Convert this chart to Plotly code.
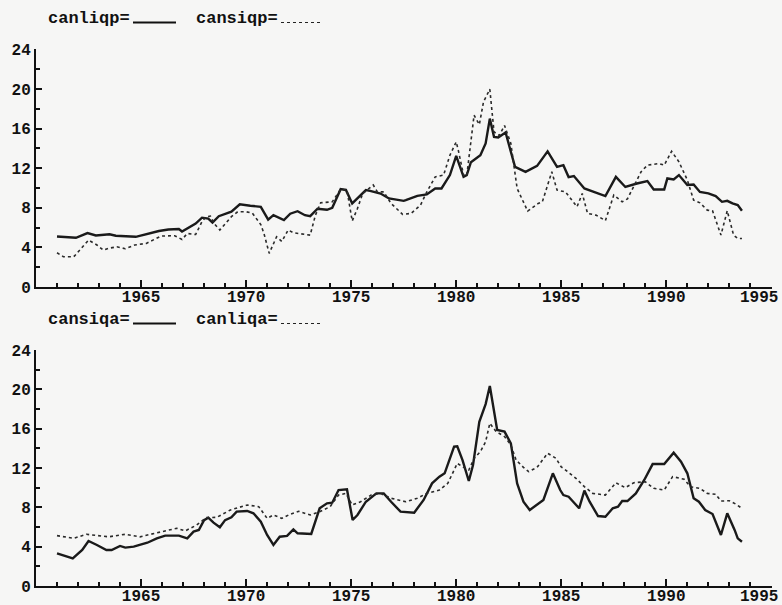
import plotly.graph_objects as go

# ---------------- data ----------------
canliqp_t = [1961.0,1961.9,1962.45,1962.85,1963.5,1963.8,1964.75,1965.2,1965.85,1966.3,1966.8,1966.95,1967.6,1967.9,1968.2,1968.4,1968.7,1969.3,1969.7,1970.2,1970.7,1971.05,1971.3,1971.8,1972.1,1972.45,1972.8,1973.05,1973.4,1973.85,1974.1,1974.5,1974.75,1975.05,1975.7,1975.9,1976.4,1976.8,1977.5,1977.6,1978.15,1978.6,1979.0,1979.3,1979.7,1980.0,1980.35,1980.5,1980.7,1981.15,1981.4,1981.6,1981.8,1982.0,1982.35,1982.6,1982.8,1983.3,1983.85,1984.35,1984.8,1985.1,1985.35,1985.6,1986.1,1986.55,1987.1,1987.6,1988.05,1988.6,1989.1,1989.4,1989.9,1990.05,1990.35,1990.6,1991.0,1991.3,1991.6,1992.0,1992.35,1992.65,1992.9,1993.15,1993.4,1993.6]
canliqp_v = [5.1,4.97,5.45,5.2,5.32,5.18,5.07,5.3,5.65,5.8,5.85,5.6,6.4,7.0,6.9,6.5,7.15,7.6,8.35,8.2,8.1,6.8,7.25,6.75,7.4,7.65,7.25,7.15,7.9,7.8,8.0,9.88,9.8,8.44,9.78,9.7,9.44,8.94,8.7,8.77,9.2,9.35,9.95,9.95,11.3,13.24,11.12,11.3,12.6,13.3,14.5,17.0,15.16,15.1,15.6,13.65,12.13,11.63,12.23,13.7,12.13,12.3,11.1,11.2,9.95,9.6,9.18,11.12,10.1,10.45,10.7,9.85,9.85,10.96,10.86,11.3,10.3,10.35,9.6,9.45,9.18,8.6,8.7,8.44,8.27,7.7]

cansiqp_t = [1961.0,1961.3,1961.8,1962.2,1962.5,1962.9,1963.2,1963.45,1963.85,1964.25,1964.7,1965.25,1965.55,1965.95,1966.6,1966.95,1967.2,1967.6,1967.9,1968.1,1968.3,1968.5,1968.75,1969.1,1969.3,1969.6,1970.0,1970.3,1970.7,1970.85,1971.1,1971.45,1971.7,1972.0,1972.25,1973.05,1973.3,1973.55,1974.1,1974.5,1974.8,1975.05,1975.3,1975.55,1976.05,1976.25,1976.55,1976.9,1977.45,1977.85,1978.3,1978.6,1979.0,1979.4,1979.7,1980.0,1980.1,1980.35,1980.5,1980.85,1981.1,1981.3,1981.6,1981.8,1982.05,1982.3,1982.6,1982.9,1983.4,1983.9,1984.1,1984.55,1984.8,1985.2,1985.75,1986.0,1986.25,1986.65,1987.1,1987.5,1987.9,1988.15,1988.8,1989.1,1989.65,1989.9,1990.25,1990.6,1991.0,1991.3,1991.6,1991.95,1992.2,1992.6,1992.9,1993.2,1993.4,1993.6]
cansiqp_v = [3.46,3.06,3.06,4.06,4.74,4.24,3.73,3.9,4.06,3.86,4.24,4.4,4.74,5.14,5.18,4.8,5.4,5.3,6.6,7.1,7.16,6.35,5.75,6.6,7.1,7.6,7.6,7.45,6.3,5.4,3.4,5.07,4.6,5.75,5.48,5.24,7.26,8.5,8.6,9.88,9.78,6.66,7.93,9.44,10.3,9.6,9.6,8.44,7.33,7.43,8.27,9.6,11.12,11.3,13.3,14.65,13.8,11.3,11.2,17.34,16.4,18.7,19.97,15.66,15.3,16.3,14.5,9.95,7.66,8.44,8.6,11.63,9.78,9.6,8.1,9.44,7.43,7.26,6.7,9.28,8.6,8.9,11.63,12.3,12.47,12.3,13.7,12.64,10.8,8.77,8.5,7.76,7.7,5.24,7.7,5.24,4.9,4.9]

cansiqa_t = [1961.0,1961.35,1961.75,1962.2,1962.5,1962.9,1963.35,1963.6,1964.0,1964.25,1964.65,1965.3,1965.75,1966.15,1966.8,1967.2,1967.5,1967.75,1968.0,1968.2,1968.45,1968.75,1969.0,1969.3,1969.55,1970.05,1970.35,1970.7,1971.0,1971.3,1971.6,1971.95,1972.25,1972.45,1973.1,1973.5,1973.85,1974.1,1974.4,1974.8,1975.07,1975.3,1975.7,1976.2,1976.55,1976.9,1977.35,1978.0,1978.45,1978.85,1979.2,1979.45,1979.9,1980.05,1980.3,1980.6,1980.8,1981.1,1981.4,1981.6,1981.95,1982.3,1982.6,1982.9,1983.2,1983.5,1983.85,1984.15,1984.6,1984.95,1985.1,1985.35,1985.85,1986.1,1986.35,1986.75,1987.1,1987.45,1987.7,1987.9,1988.15,1988.55,1988.95,1989.35,1989.9,1990.35,1990.7,1991.0,1991.3,1991.55,1991.85,1992.2,1992.6,1992.9,1993.25,1993.4,1993.6]
cansiqa_v = [3.32,3.05,2.81,3.66,4.58,4.17,3.66,3.66,4.07,3.9,4.0,4.4,4.85,5.12,5.12,4.85,5.53,5.7,6.7,6.95,6.44,5.97,6.7,6.98,7.56,7.63,7.39,6.54,5.19,4.17,5.01,5.09,5.76,5.36,5.29,7.9,8.41,8.47,9.76,9.83,6.71,7.22,8.57,9.42,9.42,8.57,7.56,7.46,8.75,10.44,11.12,11.46,14.17,14.2,12.81,10.68,12.3,16.7,18.5,20.34,15.86,15.7,14.5,10.44,8.57,7.73,8.24,8.75,11.46,9.76,9.25,9.08,7.9,9.7,8.57,7.12,7.05,7.9,8.07,8.64,8.64,9.42,10.78,12.4,12.4,13.56,12.64,11.46,8.92,8.57,7.73,7.32,5.19,7.39,5.7,4.85,4.5]

canliqa_t = [1961.0,1961.8,1962.4,1962.9,1963.45,1964.25,1964.95,1965.45,1966.1,1966.7,1967.1,1967.65,1968.1,1968.6,1969.25,1969.55,1970.05,1970.6,1971.0,1971.3,1971.7,1972.1,1972.5,1973.05,1973.5,1974.0,1974.4,1974.75,1975.05,1975.45,1975.95,1976.4,1976.9,1977.6,1978.15,1978.6,1979.2,1979.6,1980.05,1980.35,1980.6,1980.85,1981.15,1981.4,1981.6,1981.9,1982.3,1982.6,1982.85,1983.2,1983.45,1983.85,1984.35,1984.75,1985.0,1985.1,1985.7,1986.1,1986.5,1987.1,1987.6,1988.05,1988.45,1989.0,1989.4,1989.9,1990.3,1990.85,1991.15,1991.6,1991.95,1992.35,1992.6,1993.0,1993.3,1993.6]
canliqa_v = [5.12,4.85,5.26,5.12,5.0,5.26,5.0,5.26,5.6,5.87,5.6,6.2,6.95,6.98,7.73,7.9,8.24,8.07,6.88,7.22,6.88,7.3,7.6,7.22,7.56,8.07,9.25,9.42,8.24,8.57,9.25,9.42,8.92,8.57,8.92,9.42,9.76,10.44,12.47,12.07,11.8,12.98,13.66,14.67,16.55,15.7,15.2,14.34,12.81,12.07,11.63,12.07,13.5,12.98,12.1,11.97,10.95,10.1,9.42,9.25,10.5,10.0,10.5,10.6,9.93,9.76,11.12,10.85,10.1,9.93,9.42,9.33,8.64,8.67,8.34,7.9]

x_ticks = [1965, 1970, 1975, 1980, 1985, 1990, 1995]
x_labels = ["1965", "1970", "1975", "1980", "1985", "1990", ""]
last_label = "1995"   # drawn separately, nudged left to stay inside the page
y_ticks = [0, 4, 8, 12, 16, 20, 24]
legend_top = ["canliqp=", "cansiqp="]
legend_bot = ["cansiqa=", "canliqa="]

# ---------------- layout helpers ----------------
W, H = 782, 605
ML, MR, MT, MB = 36, 10, 49, 19
PW, PH = W - ML - MR, H - MT - MB

def px(x):
    return (x - ML) / PW

def py(y):
    return (H - MB - y) / PH

FONT = dict(family="Liberation Mono, DejaVu Sans Mono, monospace", size=16, color="#111", weight="bold")
SOLID = dict(color="#1a1a1a", width=2.4)
DOT = dict(color="#2a2a2a", width=1.6, dash="dot")

fig = go.Figure()
fig.add_trace(go.Scatter(x=canliqp_t, y=canliqp_v, mode="lines", line=SOLID, xaxis="x", yaxis="y", showlegend=False))
fig.add_trace(go.Scatter(x=cansiqp_t, y=cansiqp_v, mode="lines", line=DOT, xaxis="x", yaxis="y", showlegend=False))
fig.add_trace(go.Scatter(x=cansiqa_t, y=cansiqa_v, mode="lines", line=SOLID, xaxis="x2", yaxis="y2", showlegend=False))
fig.add_trace(go.Scatter(x=canliqa_t, y=canliqa_v, mode="lines", line=DOT, xaxis="x2", yaxis="y2", showlegend=False))

xa = dict(range=[1960, 1995.03], tickvals=x_ticks, ticktext=x_labels,
          showline=True, linecolor="#111", linewidth=2, ticks="inside", ticklen=7,
          tickwidth=2, tickcolor="#111", showgrid=False, zeroline=False,
          minor=dict(dtick=1, tick0=1960, ticks="inside", ticklen=4, tickwidth=1.5, tickcolor="#111", showgrid=False),
          tickfont=FONT, ticklabelstandoff=-6, fixedrange=True)
ya = dict(range=[0, 24], tickvals=y_ticks, ticktext=[str(t) for t in y_ticks],
          showline=True, linecolor="#111", linewidth=2, ticks="inside", ticklen=6,
          tickwidth=2, tickcolor="#111", showgrid=False, zeroline=False,
          minor=dict(dtick=2, tick0=0, ticks="inside", ticklen=4, tickwidth=1.5, tickcolor="#111", showgrid=False),
          tickfont=FONT, fixedrange=True)

top_dom = [py(287), py(49.3)]
bot_dom = [py(586), py(350)]

fig.update_layout(
    width=W, height=H,
    margin=dict(l=ML, r=MR, t=MT, b=MB, autoexpand=False),
    paper_bgcolor="#f6f6f5", plot_bgcolor="#f6f6f5",
    xaxis=dict(xa, domain=[0, 1], anchor="y"),
    yaxis=dict(ya, domain=top_dom, anchor="x"),
    xaxis2=dict(xa, domain=[0, 1], anchor="y2"),
    yaxis2=dict(ya, domain=bot_dom, anchor="x2"),
)

LFONT = dict(FONT, size=17)
annotations = []
shapes = []
for labels, yc in ((legend_top, 18.5), (legend_bot, 319.5)):
    annotations.append(dict(text=labels[0], x=px(46), y=py(yc), xref="paper", yref="paper",
                            xanchor="left", yanchor="middle", showarrow=False, font=LFONT))
    annotations.append(dict(text=labels[1], x=px(194), y=py(yc), xref="paper", yref="paper",
                            xanchor="left", yanchor="middle", showarrow=False, font=LFONT))
    shapes.append(dict(type="line", xref="paper", yref="paper", x0=px(133), x1=px(176),
                       y0=py(yc + 4), y1=py(yc + 4), line=dict(color="#111", width=2)))
    shapes.append(dict(type="line", xref="paper", yref="paper", x0=px(281), x1=px(323),
                       y0=py(yc + 4), y1=py(yc + 4), line=dict(color="#222", width=1.2, dash="dot")))
for yc in (297.5, 596.5):
    annotations.append(dict(text=last_label, x=px(780), y=py(yc), xref="paper", yref="paper",
                            xanchor="right", yanchor="middle", showarrow=False, font=FONT))
fig.update_layout(annotations=annotations, shapes=shapes)

fig.write_html("out.html", config={"displayModeBar": False},
               post_script="document.body.style.margin='0';document.body.style.overflow='hidden';")
